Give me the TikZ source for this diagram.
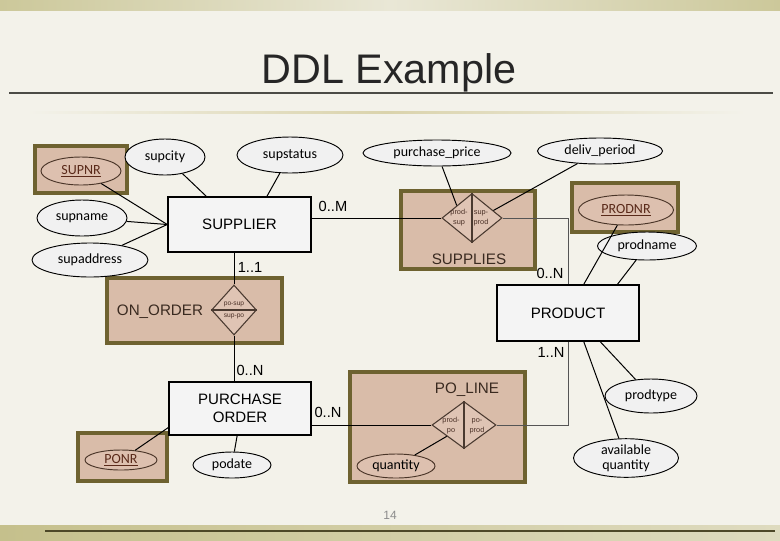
\documentclass[tikz,border=0pt]{standalone}
\usepackage{fontspec}
\setmainfont{Liberation Sans}
\newfontfamily\calibri{Carlito}
\usetikzlibrary{shapes.geometric,calc}
\definecolor{bg}{HTML}{F3F2EA}
\definecolor{bandA}{HTML}{CCC89A}
\definecolor{bandB}{HTML}{E9E7D6}
\definecolor{bandC}{HTML}{C5C08C}
\definecolor{bandD}{HTML}{DEDBBF}
\definecolor{faintline}{HTML}{DAD3AC}
\definecolor{titlec}{HTML}{262626}
\definecolor{ruleline}{HTML}{4B4B46}
\definecolor{botline}{HTML}{4D4828}
\definecolor{entfill}{HTML}{F4F4F4}
\definecolor{attrfill}{HTML}{F1F1F1}
\definecolor{aggfill}{HTML}{D9BCA9}
\definecolor{aggdraw}{HTML}{6E6230}
\definecolor{aggtext}{HTML}{3A2A20}
\definecolor{keyfill}{HTML}{DDC0AF}
\definecolor{keydraw}{HTML}{4A3528}
\definecolor{keytext}{HTML}{5A2A1A}
\definecolor{relfill}{HTML}{DFC4B4}
\definecolor{reldraw}{HTML}{4A3A30}
\definecolor{reltext}{HTML}{4A3026}
\definecolor{linegray}{HTML}{555555}
\definecolor{pgnum}{HTML}{8C8C8C}
\newcommand\pxl[1]{#1*0.75pt}
\begin{document}
\begin{tikzpicture}[x=0.75pt,y=-0.75pt,
  entity/.style={draw=black, line width=1.1pt, fill=entfill, font=\fontsize{11.3}{13.5}\selectfont, align=center, inner sep=0pt},
  attr/.style={ellipse, draw=black, line width=0.7pt, fill=attrfill, font=\calibri\fontsize{10.5}{12}\selectfont, inner sep=0pt, align=center},
  keyattr/.style={attr, fill=keyfill, draw=keydraw, text=keytext},
  aggbox/.style={draw=aggdraw, line width=2.6pt, fill=aggfill, inner sep=0pt},
  rel/.style={diamond, draw=reldraw, line width=0.8pt, fill=relfill, inner sep=0pt, aspect=1},
  rtxt/.style={font=\fontsize{5.5}{7.5}\selectfont, text=reltext, align=center, inner sep=0pt},
  card/.style={font=\fontsize{11}{13}\selectfont, inner sep=0pt},
  conn/.style={draw=black, line width=0.75pt},
  divider/.style={draw=reldraw, line width=0.9pt},
  aggtitle/.style={font=\fontsize{11.4}{13}\selectfont, text=aggtext, inner sep=0pt}
]
\useasboundingbox (0,0) rectangle (780,540);
\fill[bg] (0,0) rectangle (780,540);
% top band
\shade[left color=bandA, right color=bandA, middle color=bandB] (0,0) rectangle (780,10);
% title
\node[font=\fontsize{31}{36}\selectfont, text=titlec, anchor=base, inner sep=0pt] (title) at (389,83) {DDL Example};
\draw[ruleline, line width=1.5pt] (9,93) -- (773,93);
\shade[left color=bg, right color=bg, middle color=faintline] (27,111) rectangle (745,113.5);
% bottom band
\shade[left color=bandC, right color=bandD] (0,525) rectangle (780,540);
\draw[botline, line width=1.1pt] (45,531) -- (775,531);
\node[font=\fontsize{9}{10}\selectfont, text=pgnum, inner sep=0pt] (pnum) at (390,515) {14};

% aggregate boxes
\node[aggbox, minimum width=\pxl{92}, minimum height=\pxl{47}] (supnrbox) at (81,169.5) {};
\node[aggbox, minimum width=\pxl{134}, minimum height=\pxl{78}] (suppliesbox) at (468,230) {};
\node[aggbox, minimum width=\pxl{106}, minimum height=\pxl{49}] (prodnrbox) at (625,207.5) {};
\node[aggbox, minimum width=\pxl{175}, minimum height=\pxl{65}] (onorderbox) at (194.5,310.5) {};
\node[aggbox, minimum width=\pxl{175}, minimum height=\pxl{110}] (polinebox) at (437.5,427) {};
\node[aggbox, minimum width=\pxl{89}, minimum height=\pxl{48}] (ponrbox) at (122.5,457) {};

\node[aggtitle] (suppliest) at (469,259) {SUPPLIES};
\node[aggtitle] (onordert) at (160,312) {ON\_ORDER};
\node[aggtitle] (polinet) at (467,390) {PO\_LINE};

% entities
\node[entity, minimum width=\pxl{143}, minimum height=\pxl{55}] (supplier) at (239.5,224.5) {SUPPLIER};
\node[entity, minimum width=\pxl{142}, minimum height=\pxl{56}] (product) at (568,313) {PRODUCT};
\node[entity, minimum width=\pxl{142}, minimum height=\pxl{53}] (po) at (240,408.5) {PURCHASE\\ORDER};

% attributes
\node[keyattr, minimum width=\pxl{80}, minimum height=\pxl{28}] (supnr) at (81,171) {\underline{SUPNR}};
\node[attr, minimum width=\pxl{80}, minimum height=\pxl{36}] (supcity) at (165,157) {supcity};
\node[attr, minimum width=\pxl{106}, minimum height=\pxl{36}] (supstatus) at (290,155) {supstatus};
\node[attr, minimum width=\pxl{90}, minimum height=\pxl{36}] (supname) at (82,218) {supname};
\node[attr, minimum width=\pxl{116}, minimum height=\pxl{34}] (supaddr) at (90,260) {supaddress};
\node[attr, minimum width=\pxl{148}, minimum height=\pxl{26}] (pprice) at (437,153) {purchase\_price};
\node[attr, minimum width=\pxl{125}, minimum height=\pxl{26}] (deliv) at (600,151) {deliv\_period};
\node[keyattr, minimum width=\pxl{95}, minimum height=\pxl{30}] (prodnr) at (626,210) {\underline{PRODNR}};
\node[attr, minimum width=\pxl{99}, minimum height=\pxl{28}] (prodname) at (647,246) {prodname};
\node[attr, minimum width=\pxl{92}, minimum height=\pxl{34}] (prodtype) at (651,396) {prodtype};
\node[attr, minimum width=\pxl{105}, minimum height=\pxl{37}, font=\calibri\fontsize{10.5}{11.5}\selectfont] (availqty) at (626,458) {available\\quantity};
\node[keyattr, minimum width=\pxl{78}, minimum height=\pxl{24}, text=black] (qty) at (396,466) {quantity};
\node[keyattr, minimum width=\pxl{72}, minimum height=\pxl{20}] (ponr) at (121,460) {\underline{PONR}};
\node[attr, minimum width=\pxl{78}, minimum height=\pxl{26}] (podate) at (232,465) {podate};

% relationships
\node[rel, minimum width=\pxl{60}, minimum height=\pxl{49}] (sd) at (472,218) {};
\node[rel, minimum width=\pxl{45}, minimum height=\pxl{50}] (od) at (234,310) {};
\node[rel, minimum width=\pxl{64}, minimum height=\pxl{47}] (pd) at (464,425) {};
\draw[divider] (sd.north) -- (sd.south);
\draw[divider] (pd.north) -- (pd.south);
\draw[divider] (od.west) -- (od.east);
\node[rtxt] (sdl) at (459,218) {prod-\\sup};
\node[rtxt] (sdr) at (481,218) {sup-\\prod};
\node[rtxt] (pdl) at (451,426) {prod-\\po};
\node[rtxt] (pdr) at (477,426) {po-\\prod};
\node[rtxt, font=\fontsize{5}{6}\selectfont] (odt) at (234,304.5) {po-sup};
\node[rtxt, font=\fontsize{5}{6}\selectfont] (odb) at (234,316) {sup-po};

% connectors
\draw[conn] (supnr) -- (supplier.west);
\draw[conn] (supname) -- (supplier.west);
\draw[conn] (supaddr) -- (supplier.west);
\draw[conn] (supcity) -- ($(supplier.north west)!0.27!(supplier.north east)$);
\draw[conn] (supstatus) -- ($(supplier.north west)!0.69!(supplier.north east)$);

\draw[conn] (sd.west) -- (sd.west -| supplier.east);
\draw[conn, draw=linegray] (sd.east) -| (product.north);
\draw[conn] (pprice) -- ($(sd.west)!0.5!(sd.north)$);
\draw[conn] (deliv) -- ($(sd.north)!0.7!(sd.east)$);

\draw[conn] (prodnr) -- ($(product.north west)!0.61!(product.north east)$);
\draw[conn] (prodname) -- ($(product.north west)!0.845!(product.north east)$);
\draw[conn] (prodtype) -- ($(product.south west)!0.725!(product.south east)$);
\draw[conn] (availqty) -- ($(product.south west)!0.61!(product.south east)$);

\draw[conn] (od.north) -- (od.north |- supplier.south);
\draw[conn] (od.south) -- (od.south |- po.north);

\draw[conn] (pd.west) -- (pd.west -| po.east);
\draw[conn, draw=linegray] (pd.east) -| (product.south);
\draw[conn] (qty) -- ($(pd.west)!0.47!(pd.south)$);

\draw[conn] (ponr) -- ($(po.north west)!0.85!(po.south west)$);
\draw[conn] (podate) -- ($(po.south west)!0.48!(po.south east)$);

% cardinalities
\node[card] (c1) at (333,206) {0..M};
\node[card] (c2) at (250,267) {1..1};
\node[card] (c3) at (550,273) {0..N};
\node[card] (c4) at (551,352) {1..N};
\node[card] (c5) at (250,370) {0..N};
\node[card] (c6) at (328,412) {0..N};
\end{tikzpicture}
\end{document}
